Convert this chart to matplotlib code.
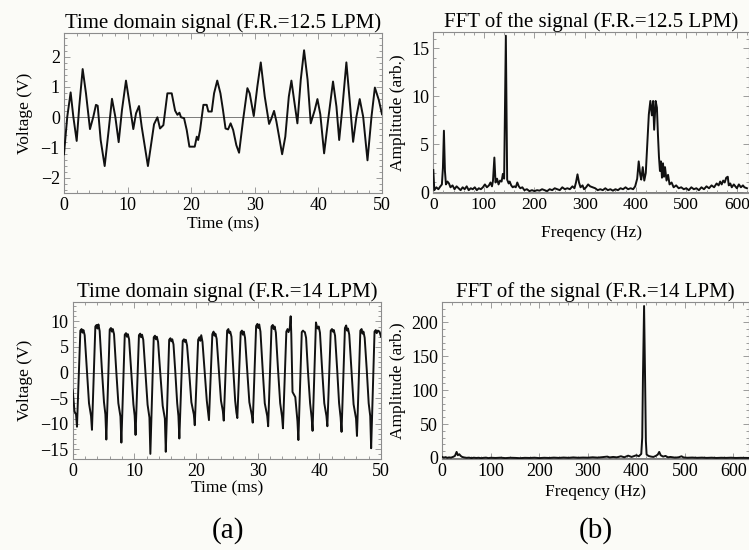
import matplotlib
matplotlib.use("Agg")
import matplotlib.pyplot as plt
from matplotlib.ticker import MultipleLocator

plt.rcParams["font.family"] = ["Liberation Serif", "DejaVu Serif"]

# (a) top: time-domain signal, F.R. = 12.5 LPM
t_125 = [0.0, 0.52, 1.05, 1.47, 2.0, 2.4, 2.94, 3.46, 4.09, 4.62, 5.03, 5.3, 5.77,
         6.4, 7.03, 7.55, 8.07, 8.6, 9.12, 9.75, 10.38, 10.9, 11.33, 11.8, 12.22,
         13.2, 13.8, 14.16, 14.69, 15.1, 15.63, 16.26, 16.94, 17.47, 17.84, 18.15,
         18.4, 18.88, 19.3, 19.72, 20.56, 20.88, 21.1, 21.4, 21.92, 22.44, 22.7,
         23.23, 23.6, 24.1, 24.6, 25.0, 25.4, 25.8, 26.2, 26.6, 27.1, 27.53, 28.16,
         28.84, 29.2, 29.84, 30.4, 30.94, 31.57, 32.25, 32.6, 33.03, 33.4, 33.82,
         34.3, 34.8, 35.35, 35.76, 36.18, 36.7, 37.23, 37.75, 38.3, 38.8, 39.43,
         39.85, 40.3, 40.9, 41.53, 42.3, 42.84, 43.27, 43.74, 44.4, 44.96, 45.46,
         45.98, 46.5, 47.04, 47.72, 48.35, 48.88, 49.5, 50.0]
v_125 = [-1.22, 0.02, 0.82, 0.02, -0.78, 0.35, 1.59, 0.79, -0.39, 0.02, 0.41, 0.38,
         -0.75, -1.61, -0.42, 0.61, 0.02, -0.82, 0.24, 1.21, 0.35, -0.39, 0.13, 0.37,
         -0.31, -1.61, -0.75, -0.23, 0.0, -0.37, -0.26, 0.79, 0.79, 0.22, 0.08, 0.15,
         0.0, -0.03, -0.42, -0.97, -0.97, -0.64, -0.75, -0.42, 0.41, 0.41, 0.19,
         0.19, 0.79, 1.21, 0.79, 0.24, -0.37, -0.4, -0.2, -0.42, -0.92, -1.17, -0.09,
         0.96, 0.79, 0.04, 1.01, 1.81, 0.68, -0.22, -0.05, 0.21, -0.14, -0.64,
         -1.22, -0.64, 0.68, 1.21, 0.57, -0.2, 1.24, 2.21, 1.24, -0.2, 0.24,
         0.6, 0.1, -1.19, -0.09, 1.18, 0.35, -0.75, 0.24, 1.81, 0.46, -0.81,
         0.02, 0.6, 0.02, -1.42, 0.02, 0.98, 0.57, 0.1]

# (a) bottom: time-domain signal, F.R. = 14 LPM
t_14 = [0.0, 0.3, 0.55, 0.7,
        1.25, 1.45, 1.6, 1.75, 1.95, 2.3, 2.65, 2.98, 3.13,
        3.68, 3.88, 4.03, 4.18, 4.38, 4.73, 5.08, 5.31, 5.46,
        6.01, 6.21, 6.36, 6.51, 6.71, 7.06, 7.41, 7.75, 7.9,
        8.45, 8.65, 8.8, 8.95, 9.15, 9.5, 9.85, 10.05, 10.2,
        10.75, 10.95, 11.1, 11.25, 11.45, 11.8, 12.15, 12.45, 12.6,
        13.15, 13.35, 13.5, 13.65, 13.85, 14.2, 14.6, 14.95, 15.1,
        15.65, 15.85, 16.0, 16.15, 16.35, 16.65, 16.95, 17.15, 17.3,
        17.85, 18.05, 18.2, 18.35, 18.55, 18.9, 19.25, 19.65, 19.8,
        20.35, 20.55, 20.7, 20.85, 21.05, 21.4, 21.75, 21.95, 22.1,
        22.65, 22.85, 23.0, 23.15, 23.35, 23.7, 24.05, 24.35, 24.5,
        25.05, 25.25, 25.4, 25.55, 25.75, 26.05, 26.35, 26.55, 26.7,
        27.25, 27.45, 27.6, 27.75, 27.95, 28.3, 28.65, 29.05, 29.2,
        29.75, 29.95, 30.1, 30.25, 30.45, 30.8, 31.15, 31.55, 31.7,
        32.25, 32.45, 32.6, 32.75, 32.95, 33.3, 33.65, 33.95, 34.1,
        34.65, 34.85, 35.0, 35.2, 35.35, 35.45, 35.65, 36.1, 36.45, 36.6,
        37.15, 37.35, 37.5, 37.65, 37.85, 38.15, 38.5, 38.75, 38.9,
        39.45, 39.6, 39.75, 39.9, 40.1, 40.45, 40.8, 41.15, 41.3,
        41.85, 42.05, 42.2, 42.35, 42.55, 42.9, 43.2, 43.45, 43.6,
        44.15, 44.35, 44.5, 44.65, 44.85, 45.2, 45.55, 45.95, 46.1,
        46.65, 46.85, 47.0, 47.15, 47.35, 47.7, 48.0, 48.25, 48.4,
        48.95, 49.15, 49.3, 49.5, 49.75, 50.0]
v_14 = [-3.4, -7.6, -8.2, -10.6,
        8.2, 8.5, 7.8, 8.3, 7.3, 0.5, -6.0, -8.5, -11.2,
        9.0, 9.3, 8.6, 9.4, 8.1, 0.8, -5.8, -8.2, -13.1,
        8.4, 8.7, 8.0, 8.5, 7.5, 0.5, -6.0, -8.6, -13.7,
        7.4, 7.7, 7.0, 7.5, 6.5, 0.3, -6.2, -8.4, -12.2,
        7.3, 7.6, 6.9, 7.4, 6.4, 0.2, -6.3, -8.8, -15.9,
        6.9, 7.2, 6.5, 7.0, 6.0, 0.0, -6.5, -9.0, -15.5,
        6.4, 6.7, 6.1, 6.5, 5.5, 0.0, -6.0, -8.5, -12.9,
        6.2, 6.5, 6.0, 6.4, 5.3, 0.0, -5.8, -8.2, -10.3,
        6.4, 6.9, 6.2, 7.3, 6.0, 0.3, -5.5, -7.6, -9.3,
        7.5, 8.0, 7.2, 7.6, 6.6, 0.5, -5.5, -7.5, -9.4,
        8.2, 8.5, 7.7, 8.0, 7.0, 0.5, -5.5, -7.8, -8.9,
        7.9, 8.2, 7.4, 8.0, 6.8, 0.5, -5.8, -8.3, -9.8,
        9.1, 9.5, 8.7, 9.4, 8.0, 0.8, -6.0, -8.5, -10.5,
        9.0, 9.3, 8.5, 9.0, 7.8, 0.6, -6.0, -8.6, -10.9,
        8.0, 8.5, 7.9, 8.6, 11.0, 7.5, -3.8, -4.8, -9.5, -13.2,
        7.9, 8.2, 8.0, 7.9, 6.8, 0.3, -6.0, -8.8, -11.4,
        9.8, 9.0, 8.6, 9.0, 7.8, 0.6, -6.0, -8.5, -10.5,
        8.2, 8.5, 8.0, 8.3, 7.2, 0.4, -6.0, -8.8, -11.6,
        8.7, 9.2, 8.2, 8.6, 7.4, 0.5, -6.2, -9.0, -12.4,
        8.2, 8.5, 7.6, 8.0, 6.8, 0.3, -6.0, -8.5, -14.8,
        8.0, 8.3, 7.7, 8.2, 8.0, 7.0]

# (b) top: FFT, F.R. = 12.5 LPM
f_125 = [0, 2, 6, 10, 14, 17, 19, 21, 23, 25, 28, 31, 34, 38, 42, 46, 50, 54, 58,
         62, 66, 70, 74, 78, 82, 86, 90, 94, 98, 102, 106, 110, 113, 116, 118,
         120.7, 123, 126, 129, 132, 135, 137.5, 140, 143.4, 146, 149, 151, 154,
         157, 160, 163, 166, 169, 172, 176, 180, 185, 190, 195, 200, 205, 210,
         215, 220, 225, 230, 235, 240, 245, 250, 255, 260, 265, 270, 275, 279,
         282, 285, 288, 291, 295, 298, 302, 306, 310, 315, 320, 325, 330, 335,
         340, 345, 350, 355, 360, 365, 370, 375, 380, 385, 390, 395, 399, 403,
         406, 409, 411, 414, 417, 420, 423, 426, 429, 432, 434.5, 436.5, 439.5,
         442, 444, 446, 448, 450, 452, 454, 456, 458, 461, 464, 467, 471, 475,
         480, 485, 490, 495, 500, 505, 510, 515, 520, 525, 530, 535, 540, 545,
         550, 555, 560, 564, 567, 570, 573, 576, 579, 582, 584, 587, 590, 594,
         597, 600, 604, 608, 612, 615, 620]
a_125 = [2.3, 0.2, 0.5, 0.3, 0.6, 0.8, 2.5, 6.4, 2.2, 0.8, 1.1, 0.9, 0.5, 0.7, 0.3,
         0.6, 0.4, 0.2, 0.5, 0.3, 0.6, 0.2, 0.4, 0.3, 0.5, 0.2, 0.4, 0.3, 0.5,
         0.8, 0.5, 0.7, 1.0, 0.6, 1.2, 3.6, 1.0, 1.4, 0.8, 1.2, 1.1, 1.9, 1.4,
         16.3, 1.3, 0.9, 1.1, 0.7, 0.5, 0.6, 0.5, 1.0, 0.6, 0.4, 0.5, 0.2, 0.3,
         0.1, 0.2, 0.1, 0.2, 0.15, 0.3, 0.2, 0.1, 0.3, 0.2, 0.4, 0.3, 0.2, 0.5,
         0.3, 0.4, 0.3, 0.6, 0.4, 1.0, 1.85, 1.0, 0.5, 0.7, 0.3, 0.5, 0.8, 0.6,
         0.5, 0.4, 0.2, 0.3, 0.2, 0.4, 0.2, 0.3, 0.15, 0.3, 0.2, 0.4, 0.3, 0.5,
         0.3, 0.4, 0.3, 0.6, 1.4, 3.2, 1.8, 1.3, 2.6, 1.2, 2.0, 5.0, 8.1, 9.5,
         8.0, 9.5, 6.5, 9.5, 8.8, 6.0, 3.7, 2.2, 3.2, 1.5, 3.0, 1.6, 2.6, 1.2,
         1.8, 0.8, 1.0, 0.5, 0.7, 0.4, 0.5, 0.3, 0.4, 0.2, 0.5, 0.3, 0.4, 0.2,
         0.5, 0.3, 0.6, 0.4, 0.7, 0.5, 0.9, 0.7, 1.1, 0.8, 1.2, 1.0, 1.5, 1.6,
         0.7, 0.9, 0.5, 0.8, 0.6, 0.4, 0.8, 0.5, 0.7, 0.5, 0.4]

# (b) bottom: FFT, F.R. = 14 LPM
f_14 = [0, 3, 7, 10, 14, 18, 22, 26, 29.5, 32, 35, 38, 41, 45, 50, 55, 60, 65, 70,
        75, 80, 85, 90, 95, 100, 110, 120, 130, 140, 150, 160, 170, 180, 190,
        200, 210, 220, 230, 240, 250, 260, 270, 280, 290, 300, 310, 320, 330,
        340, 345, 352, 360, 368, 375, 383, 390, 400, 405, 410, 412, 413.5,
        415.8, 418, 419.5, 421, 425, 430, 435, 440, 444, 447, 450, 455, 460,
        465, 470, 480, 487, 493, 497, 505, 515, 525, 535, 545, 555, 565, 575,
        585, 595, 605, 615, 625, 632]
a_14 = [1.5, 0.5, 1.2, 0.2, 0.8, 0.5, 1.5, 3.0, 8.9, 4.0, 5.5, 3.0, 1.5, 0.8, 0.2,
        0.5, -0.2, 0.4, 0.0, 0.3, -0.3, 0.2, 0.5, -0.2, 0.3, 0.0, 0.4, -0.2,
        0.3, 0.1, -0.3, 0.2, 0.0, 0.4, -0.2, 0.3, 0.0, 0.5, 0.1, 0.6, 0.2, 0.8,
        0.3, 0.6, 0.4, 1.0, 0.5, 1.2, 2.0, 0.8, 1.5, 0.9, 2.5, 1.0, 3.4, 1.5,
        4.0, 2.5, 6.0, 30.0, 120.0, 224.0, 110.0, 25.0, 5.0, 3.0, 2.0, 1.5, 3.0,
        5.0, 8.9, 4.0, 2.0, 3.0, 1.0, 1.5, 0.5, 1.0, 2.5, 0.8, 0.3, 0.6, 0.2,
        0.5, 0.1, 0.4, 0.0, 0.3, 0.1, 0.4, 0.0, 0.2, 0.1, 0.0]

BG = "#fbfbf7"
FRAME = "#8c8c8c"

fig = plt.figure(figsize=(7.49, 5.5), dpi=100, facecolor=BG)


def style_axes(ax, xmaj, xmin, ymaj, ymin, xlim, ylim):
    ax.set_facecolor(BG)
    ax.set_xlim(*xlim)
    ax.set_ylim(*ylim)
    ax.xaxis.set_major_locator(MultipleLocator(xmaj))
    ax.xaxis.set_minor_locator(MultipleLocator(xmin))
    ax.yaxis.set_major_locator(MultipleLocator(ymaj))
    ax.yaxis.set_minor_locator(MultipleLocator(ymin))
    for s in ax.spines.values():
        s.set_color(FRAME)
        s.set_linewidth(0.8)
    ax.tick_params(which="both", direction="in", top=True, right=True,
                   color=FRAME, width=0.6, labelsize=13, pad=3)
    ax.tick_params(which="major", length=4)
    ax.tick_params(which="minor", length=2)
    ax.axhline(0, color="#7a7a7a", lw=0.7, zorder=1)


# top-left
ax1 = fig.add_axes([0.0854, 0.649, 0.4246, 0.291])
ax1.plot(t_125, v_125, color="#111111", lw=1.4, zorder=3)
style_axes(ax1, 10, 2, 1, 0.2, (0, 50), (-2.5, 2.78))
ax1.set_title("Time domain signal (F.R.=12.5 LPM)", fontsize=15, pad=2.5)
ax1.set_xlabel("Time (ms)", fontsize=12.5)
ax1.set_ylabel("Voltage (V)", fontsize=12.5)
ax1.xaxis.set_label_coords(0.5, -0.145)
ax1.yaxis.set_label_coords(-0.098, 0.5)

# top-right
ax2 = fig.add_axes([0.5785, 0.649, 0.4215, 0.293])
ax2.plot(f_125, a_125, color="#111111", lw=1.4, zorder=3)
style_axes(ax2, 100, 20, 5, 1, (0, 624), (-0.1, 16.7))
ax2.tick_params(axis="x", labelsize=12.5)
ax2.set_title("FFT of the signal (F.R.=12.5 LPM)", fontsize=15, pad=2.5)
ax2.set_xlabel("Freqency (Hz)", fontsize=12.5)
ax2.set_ylabel("Amplitude (arb.)", fontsize=12.5)
ax2.xaxis.set_label_coords(0.5, -0.2)
ax2.yaxis.set_label_coords(-0.087, 0.5)

# bottom-left
ax3 = fig.add_axes([0.097, 0.1655, 0.4117, 0.2855])
ax3.plot(t_14, v_14, color="#111111", lw=1.4, zorder=3)
style_axes(ax3, 10, 2, 5, 1, (0, 50), (-16.9, 13.8))
ax3.set_title("Time domain signal (F.R.=14 LPM)", fontsize=15, pad=2.5)
ax3.set_xlabel("Time (ms)", fontsize=12.5)
ax3.set_ylabel("Voltage (V)", fontsize=12.5)
ax3.xaxis.set_label_coords(0.5, -0.138)
ax3.yaxis.set_label_coords(-0.129, 0.5)

# bottom-right
ax4 = fig.add_axes([0.5905, 0.1655, 0.4095, 0.2855])
ax4.plot(f_14, a_14, color="#111111", lw=1.4, zorder=3)
style_axes(ax4, 100, 20, 50, 10, (0, 632), (-1.5, 230))
ax4.set_title("FFT of the signal (F.R.=14 LPM)", fontsize=15, pad=2.5)
ax4.set_xlabel("Freqency (Hz)", fontsize=12.5)
ax4.set_ylabel("Amplitude (arb.)", fontsize=12.5)
ax4.xaxis.set_label_coords(0.5, -0.158)
ax4.yaxis.set_label_coords(-0.118, 0.5)

fig.text(0.304, 0.036, "(a)", fontsize=21, ha="center", va="center")
fig.text(0.796, 0.036, "(b)", fontsize=21, ha="center", va="center")

fig.savefig("out.png", dpi=100, facecolor=BG)
